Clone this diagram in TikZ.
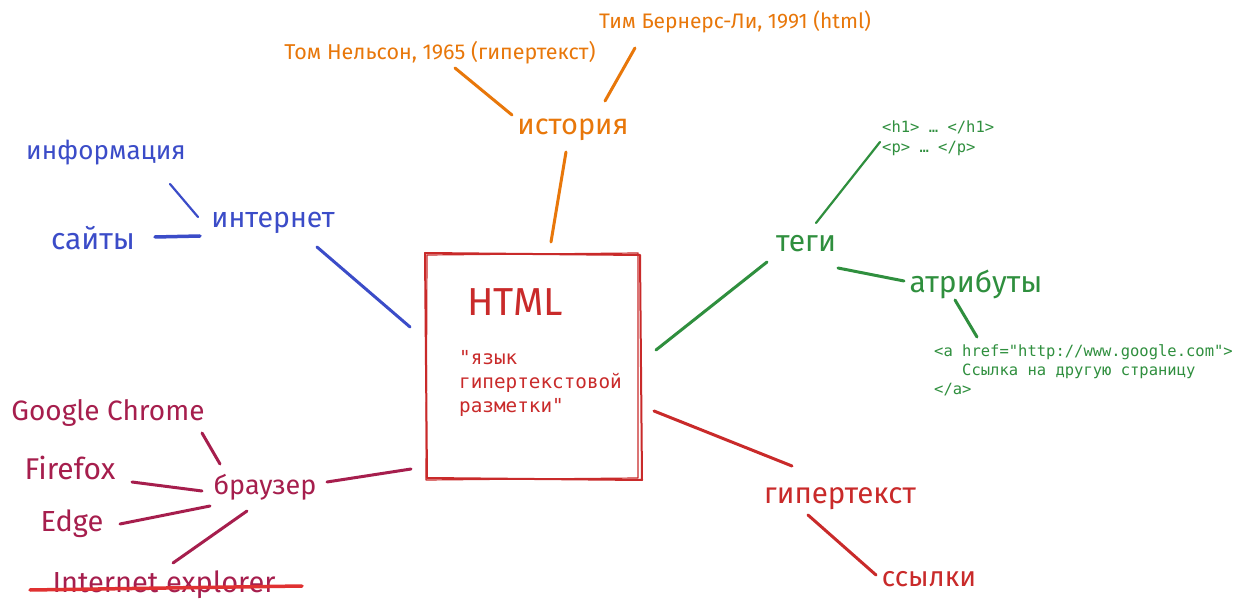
\documentclass[tikz,border=0pt]{standalone}
\usepackage{fontspec}
\setmainfont{Fira Sans}
\newfontfamily\monof{DejaVu Sans Mono}
\definecolor{cOr}{HTML}{E8770A}
\definecolor{cBl}{HTML}{3B4CC8}
\definecolor{cGr}{HTML}{2F8F3E}
\definecolor{cRd}{HTML}{C92A2A}
\definecolor{cPk}{HTML}{A61E4D}
\definecolor{cSt}{HTML}{E03131}
\begin{document}
\begin{tikzpicture}[x=1pt,y=-1pt,
  lbl/.style={inner sep=0pt,font=\fontsize{#1}{#1}\selectfont},
  mono/.style 2 args={inner sep=0pt,align=left,font=\monof\fontsize{#1}{#2}\selectfont},
  conn/.style={line width=3pt,line cap=round},
  thin conn/.style={line width=2.2pt,line cap=round}]
\useasboundingbox[fill=white] (0,0) rectangle (1243,612);

% ---------- central box ----------
\node[draw=none,minimum width=217pt,minimum height=227pt,inner sep=0pt] (box) at (533.5,366.5) {};
\draw[cRd,line width=2pt,line join=round] (425,253) -- (640,255) -- (642,480) -- (427,478) -- cycle;
\draw[cRd,line width=1.2pt,line join=round] (427,255) -- (638,253) -- (638,478) -- (426,480) -- cycle;
\node[lbl=39,text=cRd] (html) at (515,302) {HTML};
\node[mono={19.3}{24},text=cRd,anchor=north west] (def) at (459,350) {"язык\\гипертекстовой\\разметки"};

% ---------- история ----------
\node[lbl=29,text=cOr] (hist) at (573,130) {история};
\node[lbl=21.5,text=cOr] (nelson) at (440,53) {Том Нельсон, 1965 (гипертекст)};
\node[lbl=21,text=cOr] (tim) at (735,22) {Тим Бернерс-Ли, 1991 (html)};
\coordinate (o1a) at (455,68); \coordinate (o1b) at (512,115);
\coordinate (o2a) at (635,48); \coordinate (o2b) at (605,101);
\coordinate (o3a) at (566,152); \coordinate (o3b) at (551,242);
\draw[cOr,conn] (o1a) -- (o1b);
\draw[cOr,conn] (o2a) -- (o2b);
\draw[cOr,conn] (o3a) -- (o3b);

% ---------- интернет ----------
\node[lbl=28.5,text=cBl] (inet) at (273,223) {интернет};
\node[lbl=26,text=cBl] (info) at (106,153) {информация};
\node[lbl=30,text=cBl] (sites) at (93,238) {сайты};
\coordinate (b1a) at (170,184); \coordinate (b1b) at (198,217);
\coordinate (b2a) at (155,237); \coordinate (b2b) at (200,236);
\coordinate (b3a) at (317,247); \coordinate (b3b) at (410,327);
\draw[cBl,thin conn] (b1a) -- (b1b);
\draw[cBl,line width=3.5pt,line cap=round] (b2a) -- (b2b);
\draw[cBl,conn] (b3a) -- (b3b);

% ---------- теги ----------
\node[lbl=30,text=cGr] (tags) at (806,244) {теги};
\node[lbl=30,text=cGr] (attr) at (976,284) {атрибуты};
\node[mono={15.5}{20},text=cGr,anchor=north west] (tagex) at (882,121) {<h1> … </h1>\\<p> … </p>};
\node[mono={15.5}{19},text=cGr,anchor=north west] (aex) at (934,344) {<a href="http://www.google.com">\\\ \ \ Ссылка на другую страницу\\</a>};
\coordinate (g1a) at (656,350); \coordinate (g1b) at (767,262);
\coordinate (g2a) at (816,223); \coordinate (g2b) at (880,142);
\coordinate (g3a) at (838,268); \coordinate (g3b) at (904,281);
\coordinate (g4a) at (955,300); \coordinate (g4b) at (977,337);
\draw[cGr,conn] (g1a) -- (g1b);
\draw[cGr,thin conn] (g2a) -- (g2b);
\draw[cGr,conn] (g3a) -- (g3b);
\draw[cGr,conn] (g4a) -- (g4b);

% ---------- гипертекст ----------
\node[lbl=29.5,text=cRd] (hyper) at (840,499) {гипертекст};
\node[lbl=28,text=cRd] (links) at (929,579) {ссылки};
\coordinate (r1a) at (654,411); \coordinate (r1b) at (792,466);
\coordinate (r2a) at (808,515); \coordinate (r2b) at (876,575);
\draw[cRd,conn] (r1a) -- (r1b);
\draw[cRd,conn] (r2a) -- (r2b);

% ---------- браузер ----------
\node[lbl=27,text=cPk] (brow) at (265,487) {браузер};
\node[lbl=28,text=cPk] (chrome) at (108,413) {Google Chrome};
\node[lbl=30,text=cPk] (ff) at (70,468) {Firefox};
\node[lbl=29,text=cPk] (edge) at (72,524) {Edge};
\node[lbl=29,text=cPk] (ie) at (164,585) {Internet explorer};
\coordinate (s1a) at (30,590); \coordinate (s1b) at (302,586);
\draw[cSt,line width=3.5pt,line cap=round] (s1a) -- (s1b);
\coordinate (p1a) at (202,433); \coordinate (p1b) at (220,464);
\coordinate (p2a) at (132,482); \coordinate (p2b) at (202,491);
\coordinate (p3a) at (120,524); \coordinate (p3b) at (210,506);
\coordinate (p4a) at (173,563); \coordinate (p4b) at (247,511);
\coordinate (p5a) at (327,482); \coordinate (p5b) at (411,469);
\draw[cPk,conn] (p1a) -- (p1b);
\draw[cPk,conn] (p2a) -- (p2b);
\draw[cPk,conn] (p3a) -- (p3b);
\draw[cPk,conn] (p4a) -- (p4b);
\draw[cPk,conn] (p5a) -- (p5b);
\end{tikzpicture}
\end{document}
